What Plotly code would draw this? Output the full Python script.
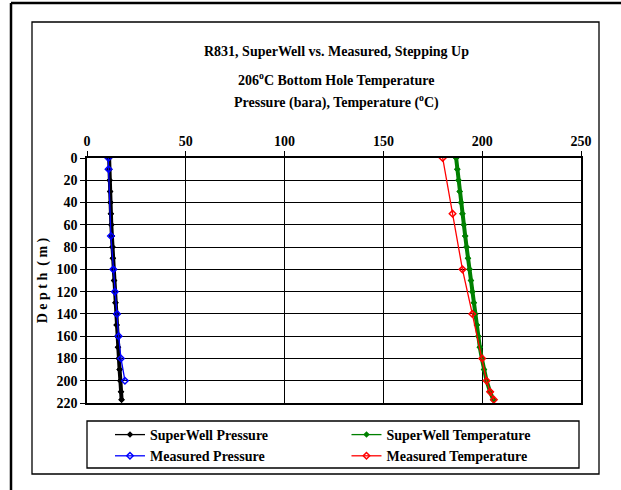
import plotly.graph_objects as go

# ---------------- data ----------------
sw_depth = [0, 10, 20, 30, 40, 50, 60, 70, 80, 90, 100, 110, 120, 130, 140,
            150, 160, 170, 180, 190, 200, 210, 217]
sw_pressure = [11.2, 11.3, 11.5, 11.7, 11.9, 12.1, 12.3, 12.6, 12.9, 13.1, 13.4,
               13.7, 14.0, 14.4, 14.7, 15.0, 15.4, 15.7, 16.1, 16.5, 16.9, 17.2, 17.5]
sw_temperature = [186.8, 187.4, 188.0, 188.6, 189.3, 190.0, 190.7, 191.4, 192.1,
                  192.8, 193.6, 194.3, 195.0, 195.8, 196.5, 197.3, 198.0, 198.8,
                  199.8, 200.9, 202.2, 204.0, 205.6]

meas_p_depth = [0, 10, 70, 100, 120, 140, 160, 180, 200]
meas_pressure = [10.8, 10.9, 12.1, 13.3, 14.1, 15.2, 16.0, 17.2, 19.2]

meas_t_depth = [0, 50, 100, 140, 180, 200, 210, 217]
meas_temperature = [180.0, 185.0, 190.0, 195.0, 200.0, 202.2, 204.0, 205.9]

title_lines = ["R831, SuperWell vs. Measured, Stepping Up",
               "206<sup>o</sup>C Bottom Hole Temperature",
               "Pressure (bara), Temperature (<sup>o</sup>C)"]
y_title = "D e p t h  ( m )"

# ---------------- layout geometry (pixels) ----------------
W, H = 621, 490
PL, PR, PT, PB = 87, 581, 158, 403   # plot area edges


def xp(px):
    return (px - PL) / (PR - PL)


def yp(py):
    return (PB - py) / (PB - PT)


FONT = "Liberation Serif"
GREEN, BLUE, RED = "#008000", "#0000ff", "#ff0000"

fig = go.Figure()
# legend entries (thin line + small marker) and the dense, thick simulated curves
for name, xs, col, rank in [("SuperWell Pressure", sw_pressure, "black", 1),
                            ("SuperWell Temperature", sw_temperature, GREEN, 2)]:
    fig.add_trace(go.Scatter(x=xs, y=sw_depth, mode="lines+markers", name=name,
                             legendrank=rank,
                             line=dict(color=col, width=1.3),
                             marker=dict(symbol="diamond", size=5, color=col)))
    fig.add_trace(go.Scatter(x=xs, y=sw_depth, mode="lines+markers", name=name,
                             showlegend=False,
                             line=dict(color=col, width=4),
                             marker=dict(symbol="diamond", size=5, color=col)))

fig.add_trace(go.Scatter(x=meas_pressure, y=meas_p_depth, mode="lines+markers",
                         name="Measured Pressure", legendrank=3,
                         line=dict(color=BLUE, width=1.3),
                         marker=dict(symbol="diamond-open", size=5, color=BLUE,
                                     line=dict(width=1.5))))
fig.add_trace(go.Scatter(x=meas_temperature, y=meas_t_depth, mode="lines+markers",
                         name="Measured Temperature", legendrank=4,
                         line=dict(color=RED, width=1.3),
                         marker=dict(symbol="diamond-open", size=5, color=RED,
                                     line=dict(width=1.5))))

annotations = []
for text, py in zip(title_lines, [51, 79, 102]):
    annotations.append(dict(text=text, xref="paper", yref="paper",
                            x=xp(336), y=yp(py), xanchor="center", yanchor="middle",
                            showarrow=False,
                            font=dict(family=FONT, size=14, color="black", weight="bold")))

shapes = [
    # outer frame (top and left edges)
    dict(type="line", xref="paper", yref="paper", x0=xp(11), x1=xp(625),
         y0=yp(3), y1=yp(3), line=dict(color="black", width=2.5)),
    dict(type="line", xref="paper", yref="paper", x0=xp(11), x1=xp(11),
         y0=yp(3), y1=yp(495), line=dict(color="black", width=2.5)),
    # chart area frame
    dict(type="rect", xref="paper", yref="paper", x0=xp(32), x1=xp(599),
         y0=yp(22), y1=yp(474), line=dict(color="black", width=1.3)),
    # legend frame
    dict(type="rect", xref="paper", yref="paper", x0=xp(87), x1=xp(579),
         y0=yp(421), y1=yp(468), line=dict(color="black", width=1.3)),
]

fig.update_layout(
    width=W, height=H,
    margin=dict(l=PL, r=W - PR, t=PT, b=H - PB, pad=0),
    paper_bgcolor="white", plot_bgcolor="white",
    font=dict(family=FONT, size=13, color="black", weight="bold"),
    showlegend=True,
    legend=dict(orientation="h", x=xp(87 + 24), y=yp(419), xanchor="left",
                yanchor="top", entrywidth=0.5, entrywidthmode="fraction",
                bgcolor="rgba(0,0,0,0)", borderwidth=0,
                font=dict(family=FONT, size=14, color="black", weight="bold"),
                tracegroupgap=0),
    annotations=annotations,
    shapes=shapes,
    xaxis=dict(side="top", range=[0, 250], dtick=50, tick0=0,
               showgrid=True, gridcolor="black", gridwidth=1,
               zeroline=False, showline=True, linecolor="black", linewidth=1.5,
               mirror=True, ticks="outside", ticklen=5, tickcolor="black",
               tickfont=dict(family=FONT, size=14, weight="bold")),
    yaxis=dict(range=[220, 0], dtick=20, tick0=0,
               showgrid=True, gridcolor="black", gridwidth=1,
               zeroline=False, showline=True, linecolor="black", linewidth=1.5,
               mirror=True, ticks="outside", ticklen=5, tickcolor="black",
               tickfont=dict(family=FONT, size=14, weight="bold"),
               title=dict(text=y_title, standoff=6,
                          font=dict(family=FONT, size=14, weight="bold"))),
)

fig.write_html("out.html")
